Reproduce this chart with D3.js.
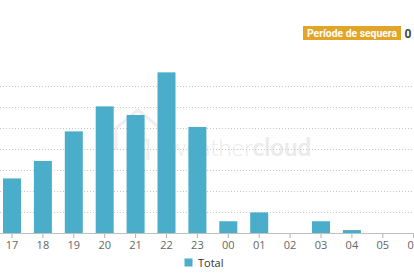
<!DOCTYPE html>
<html>
<head>
<meta charset="utf-8">
<script src="https://cdn.jsdelivr.net/npm/d3@7/dist/d3.min.js"></script>
<style>
html,body{margin:0;padding:0;background:#fff;}
svg{display:block;}
</style>
</head>
<body>
<svg id="chart" width="414" height="276"></svg>
<script>
// Data
const categories = ["17","18","19","20","21","22","23","00","01","02","03","04","05","06"];
const totals = [2.6, 3.43, 4.84, 6.03, 5.62, 7.65, 5.05, 0.56, 0.98, 0, 0.56, 0.14, 0, 0];
const yTicks = [1, 2, 3, 4, 5, 6, 7];
const seriesName = "Total";
const badgeLabel = "Període de sequera";
const badgeValue = "0";

const svg = d3.select("#chart");
const W = 414, H = 276;
const step = 30.9;
const firstCenter = 12;
const x0 = firstCenter - step / 2;

const x = d3.scaleBand()
  .domain(categories)
  .range([x0, x0 + step * categories.length])
  .paddingInner(0.417)
  .paddingOuter(0.2085);

const y = d3.scaleLinear().domain([0, 8]).range([233, 65]);

// watermark
const wm = svg.append("g").attr("fill", "none").attr("stroke", "#eeeeee").attr("stroke-width", 3);
wm.append("path").attr("d", "M116,150 L116,128 L138,110 L160,128 L160,150");
wm.append("path").attr("d", "M128,160 L128,140 L148,140 L148,160");
svg.append("text")
  .attr("x", 168).attr("y", 156)
  .attr("font-family", "Lato, 'Open Sans', sans-serif")
  .attr("font-size", 24)
  .attr("fill", "#ebebeb")
  .html('<tspan font-weight="300">weather</tspan><tspan font-weight="700">cloud</tspan>');

// gridlines
svg.append("g").selectAll("line").data(yTicks).join("line")
  .attr("x1", 0).attr("x2", W)
  .attr("y1", d => Math.round(y(d)) + 0.5).attr("y2", d => Math.round(y(d)) + 0.5)
  .attr("stroke", "#c8c8c8").attr("stroke-width", 1)
  .attr("stroke-dasharray", "1,2");

// bars
svg.append("g").selectAll("rect").data(categories).join("rect")
  .attr("x", d => x(d))
  .attr("width", x.bandwidth())
  .attr("y", (d, i) => y(totals[i]))
  .attr("height", (d, i) => y(0) - y(totals[i]))
  .attr("fill", "#4aaecb");

// x axis
const xAxis = d3.axisBottom(x).tickSize(5).tickPadding(3);
const gx = svg.append("g").attr("transform", `translate(0,${y(0)})`).call(xAxis);
gx.select(".domain").remove();
gx.append("line").attr("x1", 0).attr("x2", W).attr("y1", 0.5).attr("y2", 0.5).attr("stroke", "#c0c0c0");
gx.selectAll(".tick line").attr("stroke", "#b0b0b0");
gx.selectAll(".tick text")
  .attr("font-family", "'Open Sans', 'DejaVu Sans', sans-serif")
  .attr("font-size", 11)
  .attr("fill", "#666");

// legend
svg.append("rect").attr("x", 184.5).attr("y", 258.5).attr("width", 8).attr("height", 8).attr("fill", "#4aaecb");
svg.append("text").attr("x", 198).attr("y", 266.5)
  .attr("font-family", "'Open Sans', 'DejaVu Sans', sans-serif")
  .attr("font-size", 11).attr("fill", "#333").text(seriesName);

// badge
const bg = svg.append("g");
bg.append("rect").attr("x", 303).attr("y", 26).attr("width", 98).attr("height", 14).attr("fill", "#e2a528");
bg.append("text").attr("x", 307).attr("y", 37)
  .attr("font-family", "Roboto, sans-serif").attr("font-weight", 700)
  .attr("font-size", 11).attr("fill", "#fff")
  .attr("textLength", 90).attr("lengthAdjust", "spacingAndGlyphs")
  .text(badgeLabel);
bg.append("text").attr("x", 404.5).attr("y", 37.5)
  .attr("font-family", "Roboto, sans-serif").attr("font-weight", 700)
  .attr("font-size", 12).attr("fill", "#444").text(badgeValue);
</script>
</body>
</html>
